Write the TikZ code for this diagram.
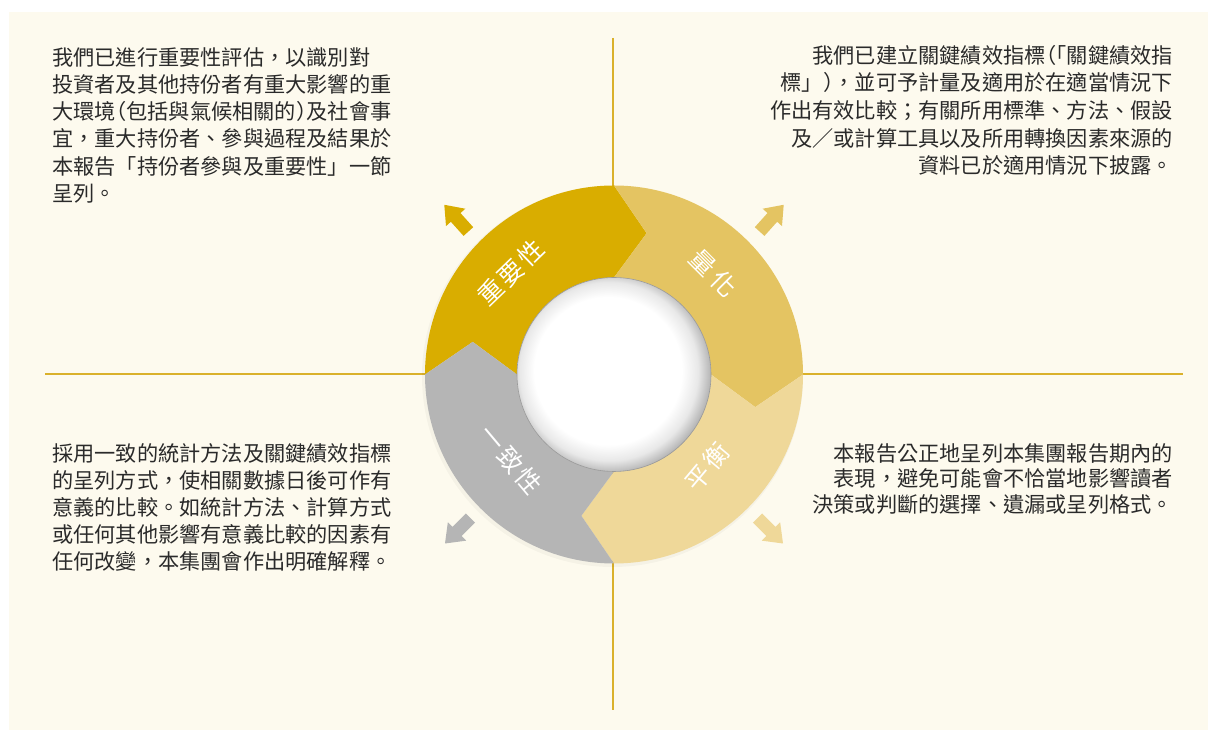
\documentclass[tikz,border=0pt]{standalone}
\usepackage{fontspec}
\setmainfont{Noto Sans CJK TC}
\newcommand\halfw[1]{{\addfontfeature{RawFeature=+halt}#1}}
\newcommand\lsp{\hspace{3pt}}
\usetikzlibrary{calc}
\definecolor{bgcream}{HTML}{FDFAEE}
\definecolor{segA}{HTML}{D9AD00}
\definecolor{segB}{HTML}{E4C462}
\definecolor{segC}{HTML}{EFD899}
\definecolor{segD}{HTML}{B5B5B5}
\definecolor{axisline}{HTML}{DAB12B}
\definecolor{bodytext}{HTML}{2A2A2A}
\pgfdeclareradialshading{holeshade}{\pgfpoint{-2.5bp}{1.5bp}}{color(0bp)=(white); color(19bp)=(white); color(23bp)=(black!9); color(26bp)=(black!28); color(28bp)=(black!42); color(50bp)=(black!42)}
\newcommand\ringseg[2]{%
  \fill[#1] (#2:189pt) arc[start angle=#2, end angle={#2-90}, radius=189pt]
    -- ({#2-103}:145pt) -- ({#2-90}:97pt)
    arc[start angle={#2-90}, end angle=#2, radius=97pt]
    -- ({#2-13}:145pt) -- cycle;}
\newcommand\smallarrow[3]{%
  \fill[#1, shift={(#2)}, rotate=#3] (0,0) -- (-17,13) -- (-17,6.5) -- (-36,6.5) -- (-36,-6.5) -- (-17,-6.5) -- (-17,-13) -- cycle;}
\tikzset{
  bodytxt/.style={text=bodytext, inner sep=0pt},
  seglabel/.style={text=white, font=\fontsize{25}{25}\selectfont, inner sep=0pt},
  axis/.style={draw=axisline, line width=2pt}
}
\begin{document}
\begin{tikzpicture}[x=1pt,y=1pt]
\useasboundingbox (0,0) rectangle (1208,730);
\fill[white] (0,0) rectangle (1208,730);
\fill[bgcream] (9,0) rectangle (1208,718);
\coordinate (C) at (614,355.5);
\coordinate (hl) at (45,355.5);
\coordinate (hr) at (1183,355.5);
\coordinate (vt) at (613,692);
\coordinate (vb) at (613,20);
\draw[axis] (hl) -- (hr);
\draw[axis] (vt) -- (vb);
% faint shadow
\fill[black, opacity=0.03] ($(C)+(-1.5,-2)$) circle[radius=190.5pt];
\begin{scope}[shift={(C)}]
  \ringseg{segA}{180}
  \ringseg{segB}{90}
  \ringseg{segC}{0}
  \ringseg{segD}{270}
  \shade[shading=holeshade] (0,0) circle[radius=97pt];
  \draw[black!40, line width=0.6pt] (0,0) circle[radius=97pt];
\end{scope}
% small arrows
\coordinate (atl) at ($(C)+(135:240pt)$);
\coordinate (atr) at ($(C)+(45:240pt)$);
\coordinate (abr) at ($(C)+(-45:239pt)$);
\coordinate (abl) at ($(C)+(-135:239pt)$);
\smallarrow{segA}{atl}{132}
\smallarrow{segB}{atr}{48}
\smallarrow{segC}{abr}{-45}
\smallarrow{segD}{abl}{-135}
% segment labels
\node[seglabel, rotate=44] (lblA) at ($(C)+(135.5:145pt)$) {重\lsp 要\lsp 性};
\node[seglabel, rotate=-45] (lblB) at ($(C)+(45.5:142pt)$) {量\lsp\hspace{2pt}化};
\node[seglabel, rotate=50] (lblC) at ($(C)+(-44.8:131pt)$) {平\lsp 衡};
\node[seglabel, rotate=-50] (lblD) at ($(C)+(219.5:134pt)$) {一\lsp 致\lsp 性};
% text blocks
\node[bodytxt, anchor=north west, align=left, font=\fontsize{21.2}{27.3}\selectfont] (tl) at (52,683)
 {我們已進行重要性評估，以識別對\\投資者及其他持份者有重大影響的重\\大環境\halfw{（}包括與氣候相關的\halfw{）}及社會事\\宜，重大持份者、參與過程及結果於\\本報告「持份者參與及重要性」一節\\呈列。};
\node[bodytxt, anchor=north east, align=right, font=\fontsize{21.2}{27.6}\selectfont] (tr) at (1173,685)
 {我們已建立關鍵績效指標\halfw{（「}關鍵績效指\\標」\halfw{）}，並可予計量及適用於在適當情況下\\作出有效比較；有關所用標準、方法、假設\\及／或計算工具以及所用轉換因素來源的\\資料已於適用情況下披露。};
\node[bodytxt, anchor=north west, align=left, font=\fontsize{21.2}{27}\selectfont] (bl) at (52,287)
 {採用一致的統計方法及關鍵績效指標\\的呈列方式，使相關數據日後可作有\\意義的比較。如統計方法、計算方式\\或任何其他影響有意義比較的因素有\\任何改變，本集團會作出明確解釋。};
\node[bodytxt, anchor=north east, align=right, font=\fontsize{21.2}{25.5}\selectfont] (br) at (1173,287)
 {本報告公正地呈列本集團報告期內的\\表現，避免可能會不恰當地影響讀者\\決策或判斷的選擇、遺漏或呈列格式。};
\end{tikzpicture}
\end{document}
